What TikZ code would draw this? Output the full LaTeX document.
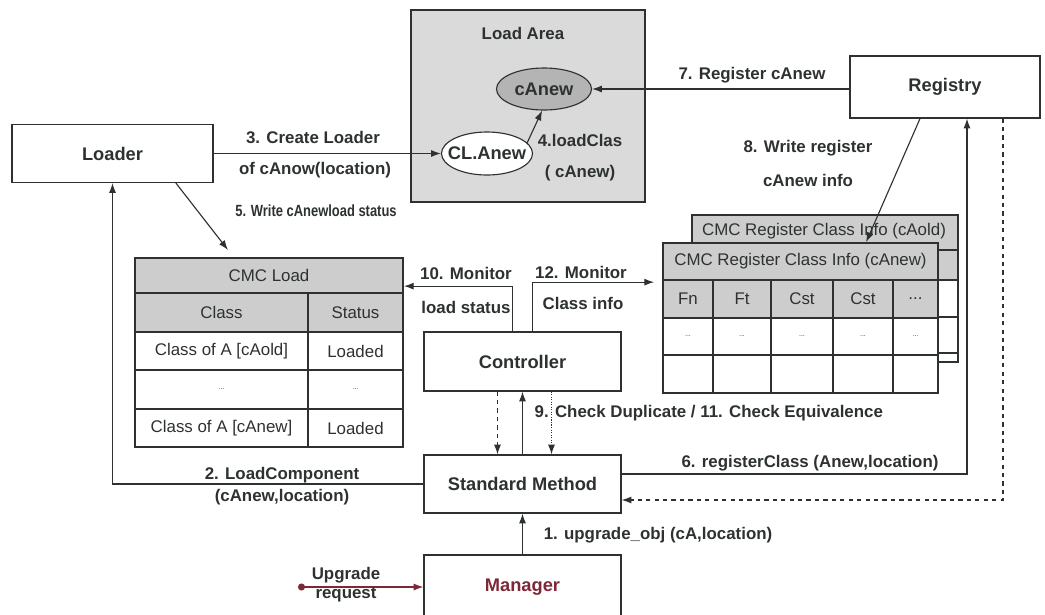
\documentclass[tikz,border=0pt]{standalone}
\usepackage{fontspec}
\setsansfont{Liberation Sans}
\usepackage{tikz}
\usetikzlibrary{positioning, shapes.geometric, arrows.meta, calc, backgrounds}

\definecolor{inkgray}{RGB}{45,50,48}
\definecolor{areagray}{RGB}{218,218,218}
\definecolor{ovalgray}{RGB}{180,180,180}
\definecolor{cellgray}{RGB}{205,205,205}
\definecolor{reqred}{RGB}{125,40,55}

\begin{document}
\begin{tikzpicture}[
		x=0.025cm, y=-0.025cm,
		% --- STYLES ---
		compbox/.style={
			rectangle, draw=inkgray, thick, fill=white, text=inkgray,
			minimum width=4.925cm, minimum height=1.45cm, align=center,
			font=\bfseries\sffamily\fontsize{13}{15}\selectfont
		},
		oval/.style={
			ellipse, draw=inkgray, thick, inner xsep=-5pt, inner ysep=0pt, text=inkgray,
			font=\bfseries\sffamily\fontsize{13}{15}\selectfont
		},
		tablebox/.style={
			rectangle, draw=inkgray, very thick, inner sep=0pt
		},
		tabline/.style={
			draw=inkgray, thick
		},
		cell/.style={
			font=\sffamily\fontsize{12}{14}\selectfont, text=inkgray, inner sep=1pt
		},
		lbl/.style={
			font=\bfseries\sffamily\fontsize{12}{14}\selectfont, text=inkgray, inner sep=1pt
		},
		line/.style={
			draw=inkgray, -{Latex[length=7pt,width=5pt]}, thick
		},
		dashline/.style={
			line, dashed
		},
		dotline/.style={
			line, densely dotted
		},
		upline/.style={
			draw=reqred, thick, {Circle[length=5pt]}-{Latex[length=7pt,width=5pt]}
		}
		]
		\useasboundingbox (0,0) rectangle (1045,614);
		
		% ==========================================
		% 1. Loader, Load Area and Registry
		% ==========================================
		\node [compbox, minimum width=5.025cm] (loader) at (112.5,153.5) {Loader};
		
		\node [rectangle, draw=inkgray, thick, fill=areagray, minimum width=5.85cm, minimum height=4.8cm] (loadarea) at (528,106) {};
		\node [lbl, font=\bfseries\sffamily\fontsize{12}{14}\selectfont] (areatitle) at (523,33) {Load Area};
		\node [oval, fill=ovalgray, minimum width=2.375cm, minimum height=1.05cm] (canew) at (544,89) {cAnew};
		\node [oval, fill=white, minimum width=2.275cm, minimum height=1.075cm] (clanew) at (487,153.5) {CL.Anew};
		
		\node [compbox, minimum width=4.75cm, minimum height=1.55cm] (registry) at (945,87) {Registry};
		
		\draw [line] (loader.east) -- (clanew.west);
		\node [lbl] (l3a) at (313,137) {3. Create Loader};
		\node [lbl] (l3b) at (315,170) {of cAnow(location)};
		
		\draw [line] (clanew.15) -- (canew.265);
		\node [lbl] (l4a) at (580,140) {4.loadClas};
		\node [lbl] (l4b) at (580,173) {( cAnew)};
		
		\draw [line] (registry.west |- canew) -- (canew.east);
		\node [lbl] (l7) at (752,75) {7. Register cAnew};
		
		% ==========================================
		% 2. CMC Load table
		% ==========================================
		\fill [cellgray] (135,258) rectangle (403,332);
		\node [tablebox, minimum width=6.7cm, minimum height=4.725cm] (cmcload) at (269,352.5) {};
		\draw [tabline] (135,293) -- (403,293) (135,332) -- (403,332) (135,370) -- (403,370) (135,409) -- (403,409);
		\draw [tabline] (308,293) -- (308,447);
		\node [cell] (ld_title) at (269,275.5) {CMC Load};
		\node [cell] (ld_class) at (221.5,312.5) {Class};
		\node [cell] (ld_status) at (355.5,312.5) {Status};
		\node [cell] (ld_c1) at (221.5,351.5) {Class of A [cAold]};
		\node [cell] (ld_s1) at (355.5,351.5) {Loaded};
		\node [cell, font=\sffamily\tiny] (ld_c2) at (221.5,389.5) {...};
		\node [cell, font=\sffamily\tiny] (ld_s2) at (355.5,389.5) {...};
		\node [cell] (ld_c3) at (221.5,428) {Class of A [cAnew]};
		\node [cell] (ld_s3) at (355.5,428) {Loaded};
		
		\coordinate (w5) at (228,250);
		\draw [line] (loader.-25) -- (w5);
		\node [lbl, font=\bfseries\sffamily\fontsize{11.5}{13}\selectfont] (l5) at (316,211) {\scalebox{0.8}[1]{5. Write cAnewload status}};
		
		% ==========================================
		% 3. CMC Register Class Info tables
		% ==========================================
		% back table (cAold)
		\fill [white] (692,215) rectangle (958,362);
		\fill [cellgray] (692,215) rectangle (958,280);
		\node [tablebox, minimum width=6.65cm, minimum height=3.675cm] (regold) at (825,288.5) {};
		\draw [tabline] (692,250) -- (958,250) (692,280) -- (958,280) (692,317) -- (958,317) (692,353) -- (958,353);
		\node [cell] (ro_title) at (824,231) {CMC Register Class Info (cAold)};
		
		% front table (cAnew)
		\fill [white] (663,243) rectangle (938,393);
		\fill [cellgray] (663,243) rectangle (938,318);
		\node [tablebox, minimum width=6.875cm, minimum height=3.75cm] (regnew) at (800.5,318) {};
		\draw [tabline] (663,280) -- (938,280) (663,318) -- (938,318) (663,355) -- (938,355);
		\draw [tabline] (713,280) -- (713,393) (771,280) -- (771,393) (833,280) -- (833,393) (893,280) -- (893,393);
		\node [cell] (rn_title) at (800.5,261.5) {CMC Register Class Info (cAnew)};
		\node [cell] (rn_fn) at (688,299) {Fn};
		\node [cell] (rn_ft) at (742,299) {Ft};
		\node [cell] (rn_cst1) at (802,299) {Cst};
		\node [cell] (rn_cst2) at (863,299) {Cst};
		\node [cell] (rn_more) at (915.5,299) {...};
		\node [cell, font=\sffamily\tiny] (rn_d1) at (688,336.5) {...};
		\node [cell, font=\sffamily\tiny] (rn_d2) at (742,336.5) {...};
		\node [cell, font=\sffamily\tiny] (rn_d3) at (802,336.5) {...};
		\node [cell, font=\sffamily\tiny] (rn_d4) at (863,336.5) {...};
		\node [cell, font=\sffamily\tiny] (rn_d5) at (915.5,336.5) {...};
		
		\draw [line] ($(registry.south)+(-25,0)$) -- ($(regnew.north west)+(204,0)$);
		\node [lbl] (l8a) at (808,148) {8. Write register};
		\node [lbl] (l8b) at (808,180) {cAnew info};
		
		% ==========================================
		% 4. Controller, Standard Method, Manager
		% ==========================================
		\node [compbox, minimum height=1.475cm] (controller) at (522.5,361.5) {Controller};
		\node [compbox] (stdmethod) at (522.5,484) {Standard Method};
		\node [compbox, minimum height=1.6cm, text=reqred] (manager) at (522.5,587) {Manager};
		
		% monitor lines
		\draw [line] ($(controller.north)+(-10,0)$) |- ($(cmcload.north east)+(0,29)$);
		\node [lbl] (l10a) at (466,273) {10. Monitor};
		\node [lbl] (l10b) at (466,307) {load status};
		\draw [line] ($(controller.north)+(10,0)$) |- ($(regnew.north west)+(-8,40)$);
		\node [lbl] (l12a) at (581,272) {12. Monitor};
		\node [lbl] (l12b) at (583,303) {Class info};
		
		% checks
		\draw [dashline] ($(controller.south)+(-25,0)$) -- ($(stdmethod.north)+(-25,0)$);
		\draw [line] (stdmethod.north) -- (controller.south);
		\draw [dotline] ($(controller.south)+(29,0)$) -- ($(stdmethod.north)+(29,0)$);
		\node [lbl, anchor=west] (l9) at (533,413) {9. Check Duplicate / 11. Check Equivalence};
		
		% calls from Standard Method
		\draw [line] (stdmethod.west) -| (loader.south);
		\node [lbl] (l2a) at (282,475) {2. LoadComponent};
		\node [lbl] (l2b) at (282,497) {(cAnew,location)};
		
		\draw [line] ($(stdmethod.east)+(0,-10)$) -| ($(registry.south)+(22,0)$);
		\node [lbl] (l6) at (810,463) {6. registerClass (Anew,location)};
		
		\draw [dashline] ($(registry.south)+(58,0)$) |- ($(stdmethod.east)+(0,16)$);
		
		\draw [line] (manager.north) -- (stdmethod.south);
		\node [lbl] (l1) at (658,535) {1. upgrade\_obj (cA,location)};
		
		% ==========================================
		% 5. Upgrade request
		% ==========================================
		\coordinate (ureq) at (298,587);
		\draw [upline] (ureq) -- (manager.west);
		\node [lbl] (lup_a) at (346,575) {Upgrade};
		\node [lbl] (lup_b) at (346,595) {request};
\end{tikzpicture}
\end{document}
